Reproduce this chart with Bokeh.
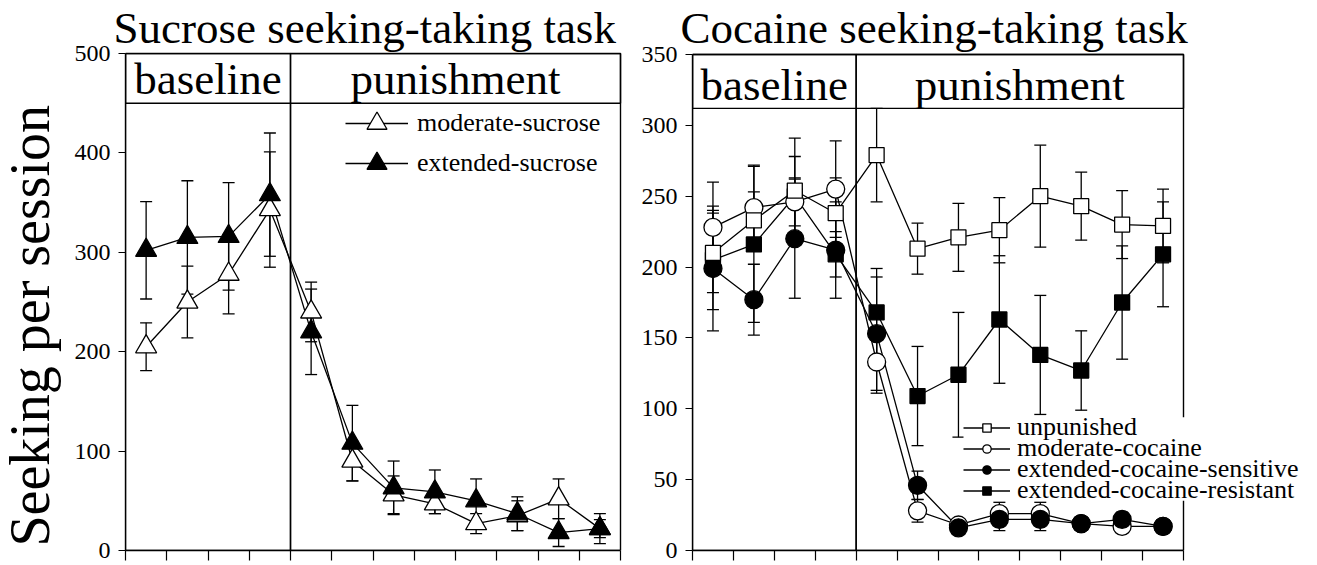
from bokeh.plotting import figure
from bokeh.models import (ColumnDataSource, Whisker, Label, Legend, LegendItem, Title,
                          FixedTicker, Range1d, TeeHead, BoxAnnotation)
from bokeh.layouts import row
from bokeh.embed import file_html
from bokeh.resources import INLINE

FONT = "Liberation Serif"

# ---- data ----
session = [1, 2, 3, 4, 5, 6, 7, 8, 9, 10, 11, 12]
phase_labels = ["baseline", "punishment"]
n_baseline = 4
y_label = "Seeking per session"
titles = ["Sucrose seeking-taking task", "Cocaine seeking-taking task"]

# Sucrose seeking-taking task
moderate_sucrose = [205, 250, 278, 343, 240, 90, 56, 47, 27, 35, 52, 22]
moderate_sucrose_sem = [24, 36, 40, 58, 30, 20, 19, 10, 10, 15, 20, 15]
extended_sucrose = [302, 315, 316, 358, 220, 108, 63, 59, 50, 37, 18, 22]
extended_sucrose_sem = [49, 57, 54, 62, 43, 38, 27, 22, 22, 17, 14, 9]

# Cocaine seeking-taking task
unpunished = [210, 233, 254, 238, 279, 213, 221, 226, 250, 243, 230, 229]
unpunished_sem = [28, 20, 37, 25, 33, 18, 24, 23, 36, 24, 24, 26]
moderate_cocaine = [228, 242, 246, 255, 133, 28, 18, 26, 26, 19, 17, 17]
moderate_cocaine_sem = [32, 30, 17, 34, 22, 8, 4, 8, 8, 4, 4, 4]
ext_sensitive = [199, 177, 220, 212, 153, 46, 16, 22, 22, 19, 22, 17]
ext_sensitive_sem = [44, 25, 42, 34, 40, 10, 4, 8, 8, 4, 5, 4]
ext_resistant = [205, 216, 250, 209, 168, 109, 124, 163, 138, 127, 175, 209]
ext_resistant_sem = [35, 55, 28, 16, 31, 35, 44, 45, 42, 28, 40, 37]

xs = [s - 0.5 for s in session]
NS = len(session)
H = 565


def src(vals, sem):
    return ColumnDataSource(dict(x=xs, y=vals,
                                 upper=[v + e for v, e in zip(vals, sem)],
                                 lower=[v - e for v, e in zip(vals, sem)]))


def base_fig(width, ymax, ystep, bl, bt, bb, box_w, box_h, frame_w, title):
    frame_h = H - bt - bb
    xmax = NS * frame_w / box_w
    ytop = ymax * frame_h / box_h
    p = figure(width=width, height=H, output_backend="svg", toolbar_location=None, title=None,
               x_range=Range1d(0, xmax), y_range=Range1d(0, ytop),
               min_border_left=bl, min_border_right=0, min_border_top=bt, min_border_bottom=bb)
    p.background_fill_color = "white"
    p.border_fill_color = "white"
    p.grid.visible = False
    p.outline_line_color = None
    p.add_layout(Title(text=title, align="left", offset=-12, standoff=0, vertical_align="bottom",
                       text_font=FONT, text_font_size="45px", text_font_style="normal",
                       text_color="black"), "above")
    p.xaxis.bounds = (0, NS)
    p.xaxis.ticker = FixedTicker(ticks=list(range(0, NS + 1)))
    p.xaxis.major_label_text_font_size = "0px"
    p.xaxis.major_label_standoff = 0
    p.xaxis.major_tick_out = 10
    p.xaxis.major_tick_in = 0
    p.xaxis.minor_tick_line_color = None
    p.xaxis.axis_line_width = 1.4
    p.xaxis.major_tick_line_width = 1.2
    p.yaxis.bounds = (0, ymax)
    p.yaxis.ticker = FixedTicker(ticks=list(range(0, ymax + 1, ystep)))
    p.yaxis.major_label_text_font = FONT
    p.yaxis.major_label_text_font_size = "24px"
    p.yaxis.major_label_text_color = "black"
    p.yaxis.major_label_standoff = 8
    p.yaxis.major_tick_out = 7
    p.yaxis.major_tick_in = 0
    p.yaxis.minor_tick_line_color = None
    p.yaxis.axis_line_width = 1.4
    p.yaxis.major_tick_line_width = 1.2
    return p


def boxes(p, ymax, yhead, ytext):
    for l, r in [(0, n_baseline), (n_baseline, NS)]:
        p.add_layout(BoxAnnotation(left=l, right=r, bottom=0, top=ymax, fill_color=None,
                                   line_color="black", line_width=1.4, line_alpha=1))
    p.add_layout(BoxAnnotation(left=0, right=NS, bottom=yhead, top=ymax, fill_color=None,
                               line_color="black", line_width=1.4, line_alpha=1))
    p.add_layout(Label(x=n_baseline / 2, y=ytext, text=phase_labels[0], text_font=FONT,
                       text_color="black", text_font_size="45px", text_align="center",
                       text_baseline="alphabetic"))
    p.add_layout(Label(x=(n_baseline + NS) / 2, y=ytext, text=phase_labels[1], text_font=FONT,
                       text_color="black", text_font_size="45px", text_align="center",
                       text_baseline="alphabetic"))


def series(p, s):
    p.add_layout(Whisker(source=s, base="x", upper="upper", lower="lower", level="underlay",
                         line_color="black", line_width=1.3,
                         upper_head=TeeHead(size=12, line_color="black", line_width=1.3),
                         lower_head=TeeHead(size=12, line_color="black", line_width=1.3)))
    return p.line("x", "y", source=s, line_color="black", line_width=1.3)


def one_legend(p, label, rends, loc, gw, gh, standoff):
    p.add_layout(Legend(items=[LegendItem(label=label, renderers=rends)],
                        location=loc, glyph_width=gw, glyph_height=gh, label_height=gh,
                        spacing=0, padding=0, margin=0, label_standoff=standoff,
                        label_text_font=FONT, label_text_font_size="26px",
                        label_text_color="black",
                        border_line_color=None, background_fill_alpha=0))


# ---- y label strip ----
ylab = figure(width=65, height=H, output_backend="svg", toolbar_location=None, title=None,
              x_range=Range1d(0, 65), y_range=Range1d(0, H),
              x_axis_location=None, y_axis_location=None, min_border=0)
ylab.outline_line_color = None
ylab.grid.visible = False
ylab.add_layout(Label(x=29, y=255, text=y_label, angle=90, angle_units="deg", text_font=FONT,
                      text_color="black", text_font_size="56px", text_align="center",
                      text_baseline="middle"))

# ---- left panel ----
left = base_fig(567, 500, 100, 60, 51, 15, 495, 498, 507, titles[0])
boxes(left, 500, 450, 474)

s_mod = src(moderate_sucrose, moderate_sucrose_sem)
s_ext = src(extended_sucrose, extended_sucrose_sem)
l_mod = series(left, s_mod)
l_ext = series(left, s_ext)
m_mod = left.scatter("x", "y", source=s_mod, marker="triangle", size=21, fill_color="white",
                     line_color="black", line_width=1.3)
m_ext = left.scatter("x", "y", source=s_ext, marker="triangle", size=21, fill_color="black",
                     line_color="black", line_width=1.3)
one_legend(left, "moderate-sucrose", [l_mod, m_mod], (220, 402), 63, 50, 9)
one_legend(left, "extended-sucrose", [l_ext, m_ext], (220, 362), 63, 50, 9)

# ---- right panel ----
right = base_fig(685, 350, 50, 60, 51, 13, 491, 499, 625, titles[1])
boxes(right, 350, 312, 328.8)

s_res = src(ext_resistant, ext_resistant_sem)
s_mc = src(moderate_cocaine, moderate_cocaine_sem)
s_sen = src(ext_sensitive, ext_sensitive_sem)
s_unp = src(unpunished, unpunished_sem)
l_res = series(right, s_res)
l_mc = series(right, s_mc)
l_sen = series(right, s_sen)
l_unp = series(right, s_unp)
m_res = right.scatter("x", "y", source=s_res, marker="square", size=15, fill_color="black",
                      line_color="black", line_width=1.3)
m_mc = right.scatter("x", "y", source=s_mc, marker="circle", size=18, fill_color="white",
                     line_color="black", line_width=1.3)
m_sen = right.scatter("x", "y", source=s_sen, marker="circle", size=18, fill_color="black",
                      line_color="black", line_width=1.3)
m_unp = right.scatter("x", "y", source=s_unp, marker="square", size=15, fill_color="white",
                      line_color="black", line_width=1.3)

# white area behind the legend (legend box: px 963..1317 x 418..502 of the page)
rx = 491 / NS
ry = 499 / 350
right.add_layout(BoxAnnotation(left=(963 - 692) / rx, right=NS * 625 / 491,
                               bottom=(552 - 502) / ry, top=(552 - 418) / ry,
                               fill_color="white", fill_alpha=1, line_color=None))
one_legend(right, "unpunished", [l_unp, m_unp], (271, 108), 47, 21, 7)
one_legend(right, "moderate-cocaine", [l_mc, m_mc], (271, 87), 47, 21, 7)
one_legend(right, "extended-cocaine-sensitive", [l_sen, m_sen], (271, 66), 47, 21, 7)
one_legend(right, "extended-cocaine-resistant", [l_res, m_res], (271, 45), 47, 21, 7)

layout = row(ylab, left, right)
open("out.html", "w").write(file_html(layout, INLINE))
